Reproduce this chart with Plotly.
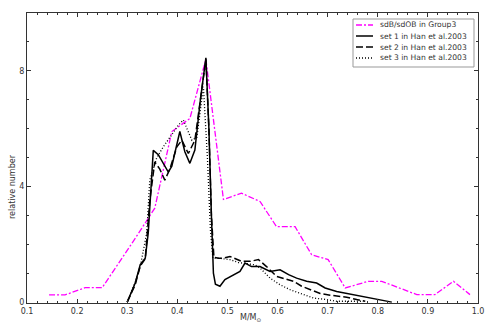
import plotly.graph_objects as go

# sdB/sdOB in Group3
x_g = [0.144, 0.176, 0.216, 0.25, 0.312, 0.355, 0.389, 0.425, 0.457, 0.492, 0.528, 0.565,
       0.598, 0.635, 0.668, 0.701, 0.735, 0.781, 0.808, 0.878, 0.914, 0.951, 0.984]
y_g = [0.25, 0.25, 0.5, 0.5, 2.1, 3.25, 5.9, 6.35, 8.4, 3.55, 3.77, 3.48,
       2.61, 2.61, 1.64, 1.47, 0.49, 0.72, 0.72, 0.26, 0.26, 0.72, 0.26]

# set 1 in Han et al.2003
x1 = [0.300, 0.316, 0.326, 0.336, 0.342, 0.352, 0.362, 0.372, 0.382, 0.389, 0.397, 0.405,
      0.415, 0.425, 0.435, 0.446, 0.457, 0.463, 0.468, 0.472, 0.476, 0.485, 0.495, 0.512,
      0.525, 0.535, 0.548, 0.565, 0.585, 0.605, 0.622, 0.638, 0.658, 0.678, 0.695, 0.718,
      0.738, 0.765, 0.791, 0.828]
y1 = [0, 0.66, 1.3, 1.52, 2.4, 5.25, 5.1, 4.8, 4.5, 4.7, 5.3, 5.9,
      5.2, 4.8, 5.26, 7.0, 8.45, 6.0, 3.0, 1.0, 0.62, 0.55, 0.78, 0.95,
      1.06, 1.35, 1.23, 1.23, 1.06, 1.12, 0.95, 0.83, 0.72, 0.66, 0.49, 0.37,
      0.3, 0.2, 0.11, 0]

# set 2 in Han et al.2003
x2 = [0.300, 0.316, 0.326, 0.336, 0.345, 0.355, 0.365, 0.375, 0.385, 0.399, 0.409, 0.422,
      0.435, 0.446, 0.457, 0.463, 0.468, 0.473, 0.482, 0.492, 0.505, 0.528, 0.545, 0.562,
      0.578, 0.598, 0.618, 0.632, 0.648, 0.665, 0.685, 0.705, 0.738, 0.758, 0.775]
y2 = [0, 0.6, 1.25, 1.5, 3.5, 4.85, 4.6, 4.22, 4.6, 5.37, 5.6, 5.14,
      5.6, 7.0, 8.4, 6.0, 3.0, 1.55, 1.52, 1.52, 1.58, 1.41, 1.41, 1.47,
      1.23, 0.89, 0.78, 0.72, 0.55, 0.43, 0.3, 0.24, 0.17, 0.09, 0.03]

# set 3 in Han et al.2003
x3 = [0.300, 0.316, 0.326, 0.339, 0.345, 0.359, 0.372, 0.385, 0.402, 0.412, 0.422, 0.429,
      0.439, 0.452, 0.460, 0.466, 0.471, 0.482, 0.505, 0.522, 0.555, 0.565, 0.585, 0.605,
      0.625, 0.652, 0.672, 0.698, 0.718, 0.771]
y3 = [0, 0.7, 1.23, 2.4, 4.22, 5.0, 5.37, 5.7, 6.12, 6.3, 5.9, 5.6,
      5.7, 7.45, 5.0, 2.5, 1.52, 1.52, 1.47, 1.37, 1.29, 1.18, 0.83, 0.6,
      0.43, 0.26, 0.14, 0.09, 0.03, 0.03]

series_names = ["sdB/sdOB in Group3", "set 1 in Han et al.2003",
                "set 2 in Han et al.2003", "set 3 in Han et al.2003"]
x_ticks = [0.1, 0.2, 0.3, 0.4, 0.5, 0.6, 0.7, 0.8, 0.9, 1.0]
y_ticks = [0, 4, 8]

W, H = 485, 325
L, R, T, B = 27, 7, 13, 22
PW, PH = W - L - R, H - T - B
TXT = "#333"


def px(p):
    return (p - L) / PW


def py(p):
    return (H - B - p) / PH


line_styles = [
    dict(color="#ff00ff", width=1.3, dash="6px,2px,2px,2px"),
    dict(color="black", width=1.5),
    dict(color="black", width=1.5, dash="7px,3px"),
    dict(color="black", width=1.3, dash="1px,2px"),
]

fig = go.Figure()
for xs, ys, name, ls in zip([x_g, x1, x2, x3], [y_g, y1, y2, y3], series_names, line_styles):
    fig.add_trace(go.Scatter(x=xs, y=ys, mode="lines", name=name, line=ls, showlegend=False))

axis_common = dict(showgrid=False, zeroline=False, showline=True, linecolor=TXT,
                   linewidth=1, mirror="allticks", ticks="inside", ticklen=4,
                   tickcolor=TXT, tickfont=dict(size=8, color=TXT, family="DejaVu Sans"),
                   automargin=False)

fig.update_xaxes(range=[0.1, 1.0], tickvals=x_ticks, tickformat=".1f",
                 minor=dict(ticks="inside", dtick=0.02, ticklen=2, tickcolor=TXT),
                 **axis_common)
fig.update_yaxes(range=[-0.03, 10], tickvals=y_ticks,
                 minor=dict(ticks="inside", dtick=1, ticklen=2, tickcolor=TXT),
                 **axis_common)

shapes = []
annotations = []
# manual legend
shapes.append(dict(type="rect", xref="paper", yref="paper",
                   x0=px(353), x1=px(474), y0=py(67), y1=py(19),
                   line=dict(color="#999", width=1), fillcolor="white", layer="above"))
rows = [25, 36, 47, 58]
for r, name, ls in zip(rows, series_names, line_styles):
    shapes.append(dict(type="line", xref="paper", yref="paper",
                       x0=px(356), x1=px(373), y0=py(r), y1=py(r),
                       line=ls, layer="above"))
    annotations.append(dict(text=name, xref="paper", yref="paper", x=px(378), y=py(r),
                            xanchor="left", yanchor="middle", showarrow=False,
                            font=dict(size=7.6, color=TXT, family="DejaVu Sans")))

# axis titles
annotations.append(dict(text="relative number", xref="paper", yref="paper",
                        x=px(12), y=py(187), textangle=-90, showarrow=False,
                        xanchor="center", yanchor="middle",
                        font=dict(size=8, color=TXT, family="DejaVu Sans")))
annotations.append(dict(text="M/M<sub>⊙</sub>", xref="paper", yref="paper",
                        x=px(251), y=py(318), showarrow=False,
                        xanchor="center", yanchor="middle",
                        font=dict(size=8, color=TXT, family="DejaVu Sans")))

fig.update_layout(
    width=W, height=H,
    margin=dict(l=L, r=R, t=T, b=B, autoexpand=False),
    plot_bgcolor="white", paper_bgcolor="white",
    font=dict(family="DejaVu Sans", size=8, color=TXT),
    showlegend=False,
    shapes=shapes,
    annotations=annotations,
)

fig.write_html("out.html", config={"displayModeBar": False},
               post_script="document.body.style.margin='0';document.body.style.padding='0';")
